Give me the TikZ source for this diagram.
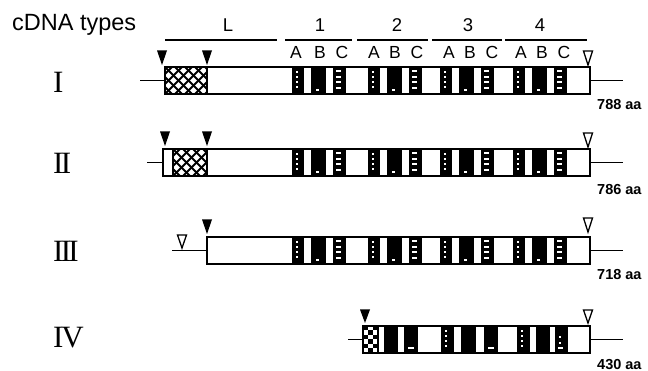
\documentclass[tikz,border=0pt]{standalone}
\usepackage{fontspec}
\setmainfont{Liberation Sans}
\newfontfamily\romanfont{Liberation Serif}
\begin{document}
% four repeated domains (A, B, C bars) of a cDNA product, box top at y=0
\newcommand\fourdomains{%
  \foreach \a in {292,368,440,513}{%
    \fill (\a,0) rectangle (\a+12,27);
    \fill (\a+19,0) rectangle (\a+34,27);
    \fill (\a+41,0) rectangle (\a+54,27);
    \foreach \d in {4,9,14,19}{\fill[white] (\a+4,\d) rectangle ++(1.5,2.5);}
    \foreach \d in {3,9,14,20}{\fill[white] (\a+44,\d) rectangle ++(5,1.6);}
    \fill[white] (\a+24,22) rectangle ++(2.5,1.6);
  }}
% diamond lattice of the leader region between x=#1 and x=#2
\newcommand\lattice[2]{%
  \scoped{%
    \clip (#1,0) rectangle (#2,27);
    \foreach \k in {-40,-30,...,60}{%
      \draw[line width=2.1pt] (#1+\k,0) -- ++(27,27);
      \draw[line width=2.1pt] (#1+\k,27) -- ++(27,-27);
    }}
  \draw[line width=1.2pt] (#1,0) rectangle (#2,27);}
\begin{tikzpicture}[x=1pt,y=-1pt,
  frame/.style={draw,line width=1.5pt},
  lead/.style={line width=1.3pt},
  head/.style={line width=2pt},
  site/.style={fill=black},
  opensite/.style={draw,line width=1.3pt,fill=white},
  hdr/.style={font=\fontsize{18.5}{20}\selectfont,anchor=base},
  sub/.style={font=\fontsize{17.5}{19}\selectfont,anchor=base},
  rn/.style={font=\romanfont\fontsize{31}{33}\selectfont,anchor=west,inner sep=0pt},
  len/.style={font=\bfseries\fontsize{14.5}{16}\selectfont,anchor=base west,inner sep=0pt}]
\useasboundingbox (0,0) rectangle (648,371);

% ---- header ----
\node[anchor=base west,inner sep=0pt,font=\fontsize{23.5}{26}\selectfont] (title) at (12,31) {cDNA types};
\node[hdr] (hL) at (228,32) {L};
\node[hdr] (h1) at (320,32) {1};
\node[hdr] (h2) at (397,32) {2};
\node[hdr] (h3) at (468,32) {3};
\node[hdr] (h4) at (540,32) {4};
\draw[head] (165,40) -- (277,40);
\draw[head] (285,40) -- (352,40);
\draw[head] (357,40) -- (428,40);
\draw[head] (432,40) -- (502,40);
\draw[head] (505,40) -- (587,40);
\foreach \x/\l in {296/A,320/B,342/C,374/A,395/B,417/C,449/A,470/B,492/C,521/A,542/B,564/C}
  \node[sub] at (\x,58.5) {\l};

% ---- type I ----
\node[rn] (rI) at (53,82) {I};
\draw[lead] (140,80.5) -- (165,80.5);
\draw[lead] (590,80.5) -- (623,80.5);
\begin{scope}[shift={(0,67)}]
  \fill[white] (165,0) rectangle (590,27);
  \fourdomains
  \lattice{165}{207}
  \draw[frame] (165,0) rectangle (590,27);
\end{scope}
\fill[site] (157,50.5) -- (167,50.5) -- (162,65) -- cycle;
\fill[site] (202,50.5) -- (212,50.5) -- (207,65) -- cycle;
\draw[opensite] (583.5,51) -- (592.5,51) -- (588,65) -- cycle;
\node[len] (aI) at (597,110) {788 aa};

% ---- type II ----
\node[rn] (rII) at (53,163) {I\kern-0.09em I};
\draw[lead] (147,162.5) -- (163,162.5);
\draw[lead] (590,162.5) -- (623,162.5);
\begin{scope}[shift={(0,149)}]
  \fill[white] (163,0) rectangle (590,27);
  \fourdomains
  \lattice{173}{207}
  \draw[frame] (163,0) rectangle (590,27);
\end{scope}
\fill[site] (160,131.5) -- (170,131.5) -- (165,146) -- cycle;
\fill[site] (202,131.5) -- (212,131.5) -- (207,146) -- cycle;
\draw[opensite] (583.5,133) -- (592.5,133) -- (588,147) -- cycle;
\node[len] (aII) at (597,195) {786 aa};

% ---- type III ----
\node[rn] (rIII) at (53,251) {I\kern-0.09em I\kern-0.09em I};
\draw[lead] (172,250.5) -- (207,250.5);
\draw[lead] (590,250.5) -- (623,250.5);
\begin{scope}[shift={(0,237)}]
  \fill[white] (207,0) rectangle (590,27);
  \fourdomains
  \draw[frame] (207,0) rectangle (590,27);
\end{scope}
\draw[opensite] (177.5,235) -- (186.5,235) -- (182,248) -- cycle;
\fill[site] (202,219.5) -- (212,219.5) -- (207,234) -- cycle;
\draw[opensite] (583.5,218) -- (592.5,218) -- (588,232) -- cycle;
\node[len] (aIII) at (597,280) {718 aa};

% ---- type IV ----
\node[rn] (rIV) at (53,338) {I\kern-0.07em V};
\draw[lead] (348,339.5) -- (363,339.5);
\draw[lead] (590,339.5) -- (623,339.5);
\begin{scope}[shift={(0,326)}]
  \fill[white] (363,0) rectangle (590,27);
  % checkered leader
  \foreach \i in {0,1,2}
    \foreach \j in {0,...,5}{%
      \pgfmathtruncatemacro\parity{mod(\i+\j,2)}
      \ifnum\parity=0 \fill (363+5*\i,4.5*\j) rectangle ++(5,4.5);\fi
    }
  \foreach \u/\v in {384/398,404/418,441/454,461/476,484/498,517/530,536/550,555/568}
    \fill (\u,0) rectangle (\v,27);
  \fill[white] (408,21) rectangle ++(6,1.6);
  \fill[white] (488,21) rectangle ++(6,1.6);
  \foreach \d in {4,9,14,19}{\fill[white] (445,\d) rectangle ++(1.5,2.5);\fill[white] (521,\d) rectangle ++(1.5,2.5);}
  \foreach \d in {10,16}{\fill[white] (559,\d) rectangle ++(2,2);}
  \fill[white] (558,21) rectangle ++(5,1.6);
  \draw[line width=1.2pt] (378,0) -- (378,27);
  \draw[frame] (363,0) rectangle (590,27);
\end{scope}
\fill[site] (360,309.5) -- (370,309.5) -- (365,323) -- cycle;
\draw[opensite] (583.5,310) -- (592.5,310) -- (588,323) -- cycle;
\node[len] (aIV) at (597,369) {430 aa};
\end{tikzpicture}
\end{document}
